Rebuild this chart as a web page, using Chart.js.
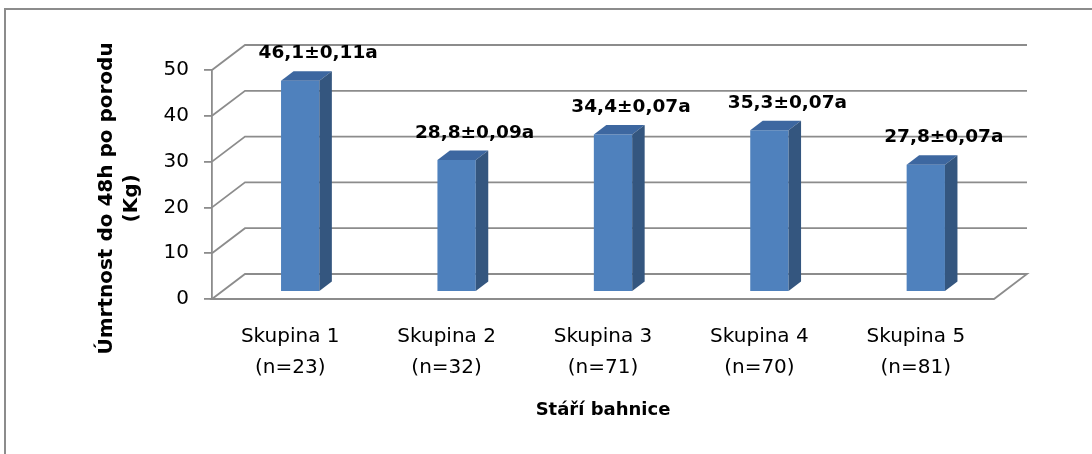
<!DOCTYPE html>
<html>
<head>
<meta charset="utf-8">
<script src="https://cdn.jsdelivr.net/npm/chart.js@4.4.0/dist/chart.umd.min.js"></script>
<style>
  html, body { margin: 0; padding: 0; background: #fff; }
</style>
</head>
<body>
<canvas id="chart" width="1092" height="454"></canvas>
<script>
const groups = ["Skupina 1", "Skupina 2", "Skupina 3", "Skupina 4", "Skupina 5"];
const groupSizes = ["(n=23)", "(n=32)", "(n=71)", "(n=70)", "(n=81)"];
const mortality = [46.1, 28.8, 34.4, 35.3, 27.8];
const errors = ["0,11", "0,09", "0,07", "0,07", "0,07"];
const letters = ["a", "a", "a", "a", "a"];
const yTicks = [0, 10, 20, 30, 40, 50];

// fake 3d look, Excel style
const WALL = { dx: 33, dy: -25 };
const BAR_SHIFT = { dx: 10, dy: -7 };
const BAR_DEPTH = { dx: 12.5, dy: -9.5 };
const GRID = "#8c8c8c";

Chart.defaults.font.family = '"DejaVu Sans", sans-serif';
Chart.defaults.color = "#000";

const box3d = {
  id: "box3d",
  beforeDraw(chart) {
    const ctx = chart.ctx;
    ctx.save();
    ctx.fillStyle = "#fff";
    ctx.fillRect(0, 0, chart.width, chart.height);
    ctx.strokeStyle = GRID;
    ctx.lineWidth = 2;
    ctx.strokeRect(5, 9, chart.width + 20, chart.height + 20);
    ctx.restore();
  },
  beforeDatasetsDraw(chart) {
    const { ctx, chartArea: a, scales: { y } } = chart;
    ctx.save();
    ctx.strokeStyle = GRID;
    ctx.lineWidth = 1.8;
    y.ticks.forEach(t => {
      const py = y.getPixelForValue(t.value);
      ctx.beginPath();
      ctx.moveTo(a.left, py);
      ctx.lineTo(a.left + WALL.dx, py + WALL.dy);
      ctx.lineTo(a.right + WALL.dx, py + WALL.dy);
      if (t.value === y.min) {
        ctx.lineTo(a.right, py);
        ctx.closePath();
      }
      ctx.stroke();
    });
    ctx.restore();
    // bars sit a bit inside the box
    ctx.save();
    ctx.translate(BAR_SHIFT.dx, BAR_SHIFT.dy);
  },
  afterDatasetsDraw(chart) {
    const ctx = chart.ctx;
    ctx.restore();
    const meta = chart.getDatasetMeta(0);
    ctx.save();
    meta.data.forEach((bar, i) => {
      const p = bar.getProps(["x", "y", "base", "width"], true);
      const L = p.x - p.width / 2 + BAR_SHIFT.dx;
      const R = p.x + p.width / 2 + BAR_SHIFT.dx;
      const T = p.y + BAR_SHIFT.dy;
      const B = p.base + BAR_SHIFT.dy;

      ctx.fillStyle = "#3D67A0";
      ctx.beginPath();
      ctx.moveTo(L, T);
      ctx.lineTo(L + BAR_DEPTH.dx, T + BAR_DEPTH.dy);
      ctx.lineTo(R + BAR_DEPTH.dx, T + BAR_DEPTH.dy);
      ctx.lineTo(R, T);
      ctx.closePath();
      ctx.fill();

      ctx.fillStyle = "#34567F";
      ctx.beginPath();
      ctx.moveTo(R, T);
      ctx.lineTo(R + BAR_DEPTH.dx, T + BAR_DEPTH.dy);
      ctx.lineTo(R + BAR_DEPTH.dx, B + BAR_DEPTH.dy);
      ctx.lineTo(R, B);
      ctx.closePath();
      ctx.fill();

      const txt = mortality[i].toFixed(1).replace(".", ",") + "±" + errors[i] + letters[i];
      ctx.fillStyle = "#000";
      ctx.font = 'bold 18.5px "DejaVu Sans"';
      ctx.textAlign = "center";
      ctx.textBaseline = "alphabetic";
      ctx.fillText(txt, p.x + 28, T + BAR_DEPTH.dy - 13);
    });
    ctx.restore();
  }
};

new Chart(document.getElementById("chart"), {
  type: "bar",
  data: {
    labels: groups.map((g, i) => [g, groupSizes[i]]),
    datasets: [{
      data: mortality,
      backgroundColor: "#4F81BD",
      borderWidth: 0,
      barPercentage: 0.245,
      categoryPercentage: 1
    }]
  },
  options: {
    responsive: false,
    animation: false,
    devicePixelRatio: 1,
    layout: { padding: { top: 70, right: 98, bottom: 0, left: 0 } },
    plugins: { legend: { display: false }, tooltip: { enabled: false } },
    scales: {
      x: {
        grid: { display: false, drawTicks: false },
        border: { display: false },
        ticks: { font: { size: 20, lineHeight: 1.57 }, padding: 22 },
        title: {
          display: true,
          text: "Stáří bahnice",
          font: { size: 18, weight: "bold" },
          padding: { top: 0, bottom: 33 }
        },
        afterFit(scale) { scale.height = 155; }
      },
      y: {
        min: yTicks[0],
        max: yTicks[yTicks.length - 1],
        ticks: { stepSize: yTicks[1] - yTicks[0], font: { size: 20 }, padding: 15 },
        grid: { drawOnChartArea: false, drawTicks: true, tickLength: 8, color: GRID, lineWidth: 1.8 },
        border: { display: true, color: GRID, width: 1.8 },
        title: {
          display: true,
          text: ["Úmrtnost do 48h po porodu    ", "(Kg)    "],
          font: { size: 20, weight: "bold", lineHeight: 1.25 },
          padding: { top: 94, bottom: 0 }
        },
        afterFit(scale) { scale.width = 212; }
      }
    }
  },
  plugins: [box3d]
});
</script>
</body>
</html>
